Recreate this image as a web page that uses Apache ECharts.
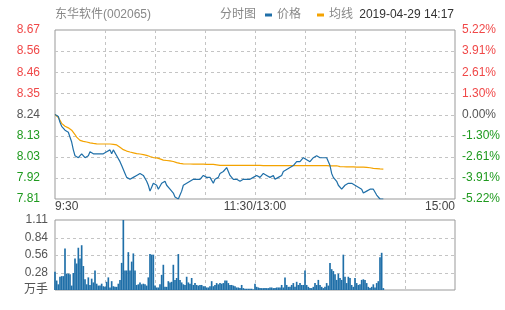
<!DOCTYPE html>
<html><head><meta charset="utf-8">
<script src="https://cdn.jsdelivr.net/npm/echarts@6/dist/echarts.min.js"></script>
<style>html,body{margin:0;padding:0;background:#fff}#c{width:505px;height:310px}</style>
</head><body><div id="c"></div>
<script>
const stockName = '东华软件(002065)';
const chartKind = '分时图';
const dateLabel = '2019-04-29 14:17';
const seriesNames = ['价格', '均线'];
const priceTickLabels = ['7.81','7.92','8.03','8.13','8.24','8.35','8.46','8.56','8.67'];
const pctTickLabels = ['-5.22%','-3.91%','-2.61%','-1.30%','0.00%','1.30%','2.61%','3.91%','5.22%'];
const volTickLabels = ['万手','0.28','0.56','0.84','1.11'];
const xTickIndex = [0, 120, 240];
const xTickLabels = ['9:30', '11:30/13:00', '15:00'];
const xGridIndex = [30, 60, 90, 120, 150, 180, 210];
const priceMin = 7.81, priceMax = 8.67, volMax = 1.11;

const price = [
 8.24,8.24,8.23,8.20,8.18,8.17,8.16,8.16,8.15,8.14,
 8.10,8.06,8.03,8.02,8.02,8.03,8.04,8.05,8.02,8.02,
 8.03,8.05,8.05,8.04,8.04,8.04,8.04,8.04,8.04,8.04,
 8.05,8.05,8.05,8.06,8.04,8.06,8.05,8.03,8.02,8.00,
 7.98,7.96,7.94,7.92,7.91,7.91,7.91,7.92,7.93,7.93,
 7.93,7.94,7.94,7.93,7.92,7.90,7.88,7.85,7.87,7.89,
 7.89,7.88,7.86,7.87,7.89,7.89,7.90,7.88,7.87,7.86,
 7.85,7.84,7.82,7.81,7.81,7.83,7.85,7.88,7.89,7.89,
 7.90,7.90,7.91,7.91,7.91,7.91,7.91,7.91,7.92,7.93,
 7.92,7.92,7.92,7.92,7.91,7.89,7.91,7.92,7.92,7.94,
 7.94,7.95,7.96,7.97,7.95,7.93,7.92,7.91,7.91,7.91,
 7.91,7.90,7.90,7.91,7.90,7.91,7.91,7.91,7.92,7.92,
 7.93,7.93,7.93,7.92,7.93,7.94,7.93,7.93,7.92,7.92,
 7.92,7.93,7.91,7.91,7.92,7.93,7.93,7.95,7.95,7.96,
 7.96,7.97,7.97,7.98,7.98,8.00,8.00,8.00,8.01,8.02,
 8.03,8.01,8.00,8.00,8.01,8.02,8.03,8.03,8.03,8.02,
 8.02,8.02,8.02,8.02,8.01,7.98,7.94,7.92,7.92,7.90,
 7.88,7.87,7.86,7.87,7.88,7.89,7.89,7.88,7.89,7.88,
 7.88,7.88,7.87,7.88,7.86,7.84,7.85,7.85,7.85,7.86,
 7.86,7.86,7.86,7.83,7.82,7.81,7.81,7.81
];
const avgPrice = [
 8.240,8.235,8.225,8.210,8.195,8.185,8.180,8.175,8.172,8.168,
 8.160,8.150,8.138,8.125,8.115,8.108,8.105,8.103,8.102,8.100,
 8.098,8.096,8.094,8.093,8.092,8.091,8.090,8.090,8.090,8.090,
 8.090,8.090,8.090,8.090,8.090,8.088,8.087,8.085,8.080,8.073,
 8.067,8.061,8.057,8.054,8.051,8.049,8.047,8.045,8.043,8.041,
 8.040,8.039,8.037,8.036,8.034,8.032,8.029,8.026,8.023,8.021,
 8.020,8.019,8.018,8.014,8.010,8.008,8.007,8.006,8.005,8.004,
 8.003,8.001,7.998,7.995,7.993,7.991,7.990,7.989,7.988,7.988,
 7.988,7.988,7.987,7.987,7.987,7.987,7.987,7.987,7.987,7.987,
 7.986,7.986,7.986,7.986,7.986,7.986,7.986,7.984,7.982,7.981,
 7.981,7.981,7.981,7.981,7.981,7.981,7.981,7.981,7.981,7.981,
 7.981,7.981,7.981,7.981,7.981,7.981,7.981,7.981,7.981,7.981,
 7.981,7.981,7.981,7.981,7.981,7.980,7.980,7.980,7.980,7.980,
 7.980,7.980,7.980,7.980,7.980,7.980,7.980,7.980,7.980,7.980,
 7.980,7.980,7.980,7.980,7.980,7.980,7.980,7.980,7.980,7.980,
 7.980,7.980,7.980,7.980,7.980,7.980,7.980,7.980,7.980,7.980,
 7.980,7.980,7.980,7.980,7.980,7.979,7.979,7.979,7.979,7.979,
 7.979,7.975,7.974,7.974,7.974,7.973,7.973,7.973,7.973,7.973,
 7.972,7.972,7.972,7.972,7.972,7.972,7.971,7.971,7.971,7.969,
 7.967,7.966,7.966,7.965,7.964,7.963,7.963,7.962
];
const volume = [
 0.29,0.15,0.09,0.21,0.22,0.22,0.66,0.26,0.26,0.25,
 0.07,0.27,0.50,0.42,0.67,0.50,0.71,0.38,0.17,0.09,
 0.20,0.08,0.18,0.12,0.31,0.10,0.07,0.07,0.10,0.06,
 0.05,0.13,0.20,0.04,0.14,0.06,0.05,0.05,0.10,0.16,
 0.43,1.11,0.31,0.31,0.60,0.31,0.45,0.58,0.31,0.08,
 0.09,0.12,0.09,0.10,0.09,0.07,0.20,0.57,0.56,0.56,
 0.07,0.04,0.04,0.09,0.24,0.40,0.05,0.05,0.14,0.12,
 0.13,0.40,0.16,0.19,0.57,0.16,0.12,0.09,0.08,0.21,
 0.12,0.10,0.19,0.08,0.11,0.08,0.07,0.08,0.08,0.06,
 0.06,0.04,0.04,0.06,0.14,0.06,0.08,0.11,0.09,0.11,
 0.10,0.11,0.15,0.15,0.11,0.08,0.08,0.07,0.06,0.04,
 0.04,0.03,0.08,0.03,0.02,0.02,0.02,0.02,0.02,0.01,
 0.10,0.05,0.04,0.03,0.03,0.03,0.03,0.03,0.03,0.04,
 0.04,0.03,0.03,0.04,0.04,0.04,0.08,0.04,0.20,0.08,
 0.05,0.05,0.08,0.11,0.05,0.13,0.08,0.11,0.08,0.08,
 0.31,0.08,0.05,0.03,0.03,0.05,0.11,0.08,0.16,0.08,
 0.05,0.03,0.05,0.11,0.07,0.43,0.33,0.30,0.25,0.16,
 0.26,0.19,0.16,0.56,0.21,0.11,0.21,0.19,0.08,0.05,
 0.19,0.11,0.08,0.09,0.16,0.17,0.16,0.11,0.05,0.03,
 0.05,0.09,0.04,0.11,0.14,0.52,0.59,0.03
];

// minute categories 9:30..11:30, 13:01..15:00
const timeCats = [];
for (let t = 9 * 60 + 30; t <= 11 * 60 + 30; t++) timeCats.push(Math.floor(t / 60) + ':' + String(t % 60).padStart(2, '0'));
for (let t = 13 * 60 + 1; t <= 15 * 60; t++) timeCats.push(Math.floor(t / 60) + ':' + String(t % 60).padStart(2, '0'));

const RED = '#f04848', GREEN = '#1f9a1f', MID = '#555', BLUE = '#1f6fa8', ORANGE = '#f4a300';
const FONT = "'Liberation Sans', Arial, 'Noto Sans CJK SC', sans-serif";
const GRIDC = '#c4c4c4';

const headerTexts = [
  { type: 'text', left: 55, top: 9, z: 10, style: { text: stockName, fill: '#888', font: '12px ' + FONT } },
  { type: 'text', left: 220, top: 9, z: 10, style: { text: chartKind, fill: '#888', font: '12px ' + FONT } },
  { type: 'text', right: 51, top: 9, z: 10, style: { text: dateLabel, fill: '#333', font: '12px ' + FONT } }
];

const chart = echarts.init(document.getElementById('c'));
chart.setOption({
  animation: false,
  textStyle: { fontFamily: FONT },
  graphic: headerTexts,
  legend: {
    data: seriesNames, left: 265, top: 9, padding: 0, icon: 'rect', itemWidth: 7, itemHeight: 3, itemGap: 16,
    textStyle: { color: '#888', fontSize: 12, fontFamily: FONT }, selectedMode: false
  },
  grid: [
    { left: 55, top: 30, width: 400, height: 169, show: true, borderColor: '#999', borderWidth: 1 },
    { left: 55, top: 220, width: 400, height: 70, show: true, borderColor: '#999', borderWidth: 1 }
  ],
  xAxis: [
    { type: 'category', gridIndex: 0, data: timeCats, boundaryGap: false,
      axisLine: { show: false }, axisTick: { show: false },
      axisLabel: { interval: function (i) { return xTickIndex.indexOf(i) >= 0; }, formatter: function (v, i) { return xTickLabels[xTickIndex.indexOf(i)] || ''; },
        color: '#444', fontSize: 12, margin: 2, alignMinLabel: 'left', alignMaxLabel: 'right', showMinLabel: true, showMaxLabel: true },
      splitLine: { show: false } },
    { type: 'category', gridIndex: 1, data: timeCats, boundaryGap: false,
      axisLine: { show: false }, axisTick: { show: false }, axisLabel: { show: false }, splitLine: { show: false } }
  ],
  yAxis: [
    { type: 'value', gridIndex: 0, min: 0, max: 8, interval: 1, position: 'left',
      axisLine: { show: false }, axisTick: { show: false }, splitLine: { show: false },
      axisLabel: { margin: 15, fontSize: 12, formatter: function (v) { return priceTickLabels[Math.round(v)]; },
        color: function (v) { return v > 4 ? RED : v < 4 ? GREEN : MID; } } },
    { type: 'value', gridIndex: 0, min: 0, max: 8, interval: 1, position: 'right',
      axisLine: { show: false }, axisTick: { show: false }, splitLine: { show: false },
      axisLabel: { margin: 7, fontSize: 12, formatter: function (v) { return pctTickLabels[Math.round(v)]; },
        color: function (v) { return v > 4 ? RED : v < 4 ? GREEN : MID; } } },
    { type: 'value', gridIndex: 0, min: priceMin, max: priceMax, show: false, splitLine: { show: false } },
    { type: 'value', gridIndex: 1, min: 0, max: volMax, interval: volMax / 4, position: 'left',
      axisLine: { show: false }, axisTick: { show: false }, splitLine: { show: false },
      axisLabel: { margin: 7, fontSize: 12, formatter: function (v) { return volTickLabels[Math.round(v / (volMax / 4))]; },
        color: function (v) { return v === 0 ? '#888' : MID; } } }
  ],
  series: [
    { name: seriesNames[1], type: 'line', xAxisIndex: 0, yAxisIndex: 2, data: avgPrice, showSymbol: false, z: 2,
      color: ORANGE, lineStyle: { color: ORANGE, width: 1.2 } },
    { name: seriesNames[0], type: 'line', xAxisIndex: 0, yAxisIndex: 2, data: price, showSymbol: false, z: 3,
      color: BLUE, lineStyle: { color: BLUE, width: 1.2 } },
    { name: '成交量', type: 'bar', xAxisIndex: 1, yAxisIndex: 3, data: volume, barCategoryGap: '0%', z: 2,
      itemStyle: { color: BLUE } }
  ]
});

// dashed grid lines, positioned through the axes' own scales
function px(finder, v) { return chart.convertToPixel(finder, v); }
function seg(x1, y1, x2, y2) {
  return { type: 'line', silent: true, z: 0, shape: { x1: x1, y1: y1, x2: x2, y2: y2 }, style: { stroke: GRIDC, lineWidth: 1 } };
}
function dashH(y, xa, xb, out) { y = Math.round(y) + 0.5; for (let x = xa; x < xb; x += 6) out.push(seg(x, y, Math.min(x + 3, xb), y)); }
function dashV(x, ya, yb, out) { x = Math.round(x) + 0.5; for (let y = ya; y < yb; y += 6) out.push(seg(x, y, x, Math.min(y + 3, yb))); }

const gridEls = [];
const xa = px({ xAxisIndex: 0 }, timeCats[0]), xb = px({ xAxisIndex: 0 }, timeCats[240]);
const pTop = px({ yAxisIndex: 0 }, 8), pBot = px({ yAxisIndex: 0 }, 0);
for (let k = 1; k < 8; k++) dashH(px({ yAxisIndex: 0 }, k), xa, xb, gridEls);
xGridIndex.forEach(function (i) { dashV(px({ xAxisIndex: 0 }, timeCats[i]), pTop, pBot, gridEls); });
const vTop = px({ yAxisIndex: 3 }, volMax), vBot = px({ yAxisIndex: 3 }, 0);
for (let k = 1; k < 4; k++) dashH(px({ yAxisIndex: 3 }, k * volMax / 4), xa, xb, gridEls);
xGridIndex.forEach(function (i) { dashV(px({ xAxisIndex: 1 }, timeCats[i]), vTop, vBot, gridEls); });

chart.setOption({
  graphic: headerTexts.concat([{ type: 'group', silent: true, z: 0, children: gridEls }])
});
</script></body></html>
